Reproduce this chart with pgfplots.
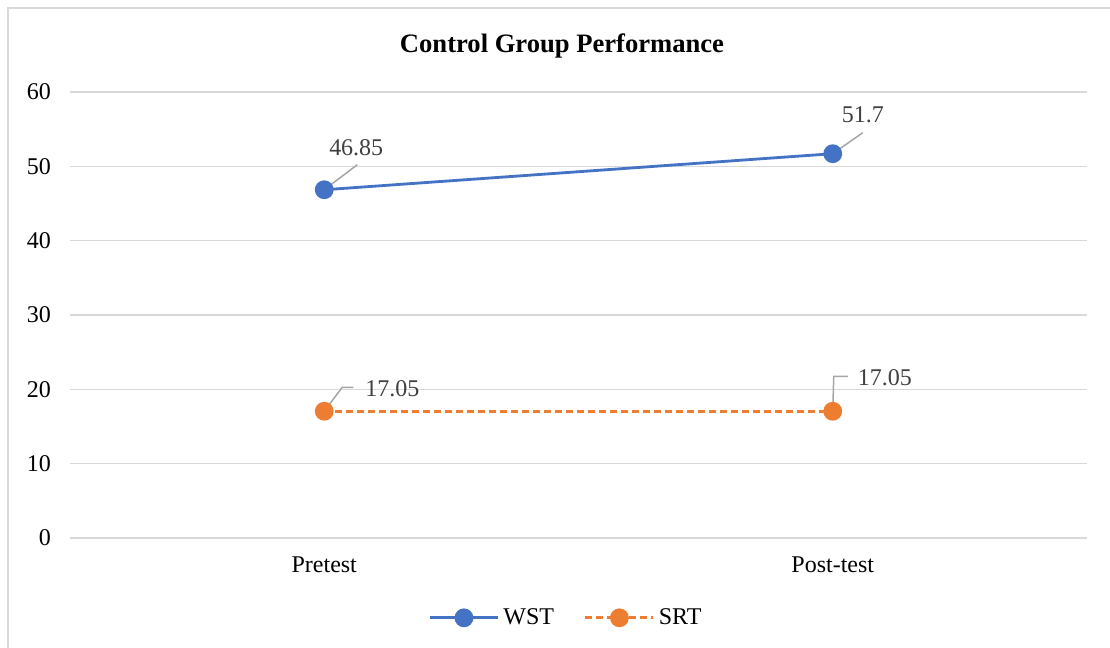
\documentclass[border=0pt]{standalone}
\usepackage{pgfplots}
\pgfplotsset{compat=1.18}
\usepackage{fontspec}
\setmainfont{Liberation Serif}
\definecolor{wst}{RGB}{68,114,196}
\definecolor{srt}{RGB}{237,125,49}
\definecolor{gridc}{RGB}{217,217,217}
\definecolor{lblc}{RGB}{64,64,64}
\definecolor{leadc}{RGB}{166,166,166}
\begin{document}
\begin{tikzpicture}
\path[use as bounding box] (0pt,0pt) rectangle (555pt,324pt);
\draw[gridc, line width=1pt] (4pt,0pt) -- (4pt,320pt) -- (555pt,320pt);
\node[anchor=base, font=\fontsize{13.3}{15}\selectfont\bfseries] at (281pt,297.5pt) {Control Group Performance};
\begin{axis}[
  at={(35pt,55pt)}, anchor=south west,
  scale only axis, width=508.5pt, height=223pt,
  xmin=-0.5, xmax=1.5, ymin=0, ymax=60,
  xtick={0,1}, xticklabels={Pretest,Post-test},
  ytick={0,10,...,60},
  axis line style={draw=none},
  tick style={draw=none},
  ymajorgrids, grid style={gridc, line width=0.75pt},
  /pgf/number format/assume math mode=true,
  tick label style={font=\fontsize{12}{14}\selectfont, text=black},
  yticklabel style={xshift=-6pt},
  xticklabel style={yshift=-6pt},
  clip=false,
  legend columns=2,
  legend style={draw=none, fill=none, at={(0.4887,-0.179)}, anchor=center,
    font=\fontsize{12}{14}\selectfont,
    /tikz/every even column/.append style={column sep=13pt}},
  legend image code/.code={\draw[mark repeat=2,mark phase=2,#1] plot coordinates {(0pt,0pt) (17pt,0pt) (34pt,0pt)};},
]
\addplot[wst, line width=1.4pt, mark=*, mark size=4pt, mark options={solid}] coordinates {(0,46.85) (1,51.7)};
\addlegendentry{WST}
\addplot[srt, line width=1.4pt, dash pattern=on 3.5pt off 2pt, mark=*, mark size=4pt, mark options={solid}] coordinates {(0,17.05) (1,17.05)};
\addlegendentry{SRT}
% data labels with leader lines
\draw[leadc, line width=0.75pt] (axis cs:0,46.85) -- ++(16.5pt,12.5pt);
\node[text=lblc, font=\fontsize{12}{14}\selectfont] at ([shift={(16pt,21pt)}]axis cs:0,46.85) {46.85};
\draw[leadc, line width=0.75pt] (axis cs:1,51.7) -- ++(15pt,10.5pt);
\node[text=lblc, font=\fontsize{12}{14}\selectfont] at ([shift={(15pt,19.5pt)}]axis cs:1,51.7) {51.7};
\draw[leadc, line width=0.75pt] (axis cs:0,17.05) -- ++(9pt,12pt) -- ++(5.5pt,0pt);
\node[text=lblc, anchor=west, font=\fontsize{12}{14}\selectfont] at ([shift={(17pt,11.5pt)}]axis cs:0,17.05) {17.05};
\draw[leadc, line width=0.75pt] (axis cs:1,17.05) -- ++(0.5pt,17.5pt) -- ++(7pt,0pt);
\node[text=lblc, anchor=west, font=\fontsize{12}{14}\selectfont] at ([shift={(9pt,17pt)}]axis cs:1,17.05) {17.05};
\end{axis}
\end{tikzpicture}
\end{document}
